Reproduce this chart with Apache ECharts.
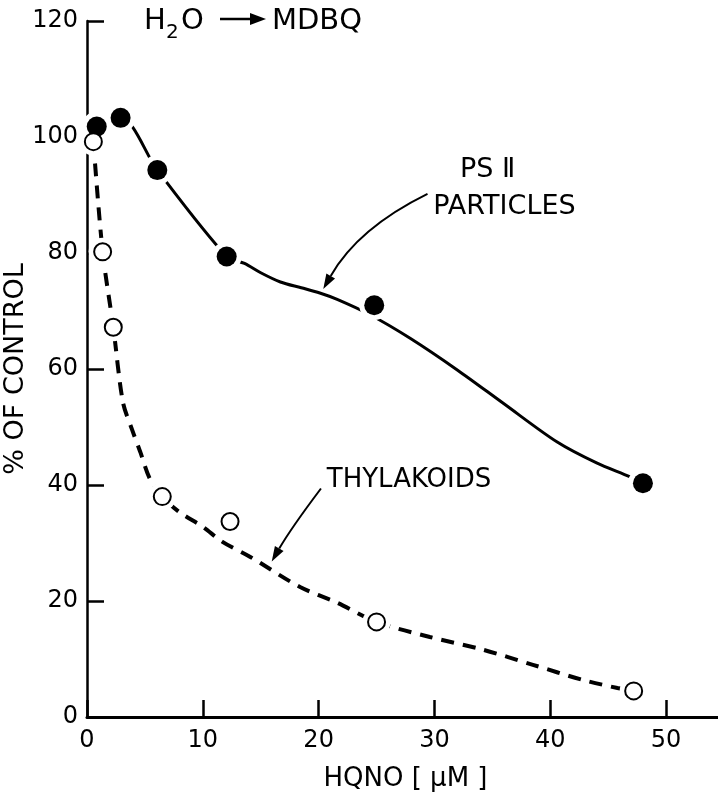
<!DOCTYPE html>
<html>
<head>
<meta charset="utf-8">
<script src="https://cdn.jsdelivr.net/npm/echarts@6/dist/echarts.min.js"></script>
<style>
  html, body { margin: 0; padding: 0; background: #fff; }
  #chart { width: 718px; height: 803px; }
</style>
</head>
<body>
<div id="chart"></div>
<script>
// measured points, HQNO (uM) vs % of control
const psIIPoints = [[0.84, 101.8], [2.9, 103.3], [6.07, 94.3], [12.06, 79.4], [24.8, 71.0], [48.0, 40.3]];
const thylakoidPoints = [[0.55, 99.2], [1.35, 80.2], [2.27, 67.2], [6.5, 38.0], [12.35, 33.7], [25.0, 16.4], [47.2, 4.5]];

// hand-drawn curves
const psIICurve = [[0.84, 101.8], [2.9, 103.3], [6.07, 94.3], [12.06, 79.4], [13.6, 78.2], [15.0, 76.6],
  [16.7, 75.0], [18.5, 74.0], [20.1, 73.1], [21.6, 72.0], [24.4, 69.4], [27.9, 65.3], [32.0, 59.8],
  [36.0, 54.0], [40.6, 47.4], [44.0, 43.8], [46.9, 41.4], [48.0, 40.3]];
const thylakoidCurve = [[0.55, 99.2], [1.35, 80.2], [2.27, 67.2], [3.1, 54.3], [3.9, 49.5], [4.6, 45.7],
  [5.4, 41.2], [6.5, 38.0], [8.0, 35.3], [10.0, 32.8], [11.7, 30.2], [14.1, 27.6], [18.4, 22.4], [21.6, 19.7],
  [25.0, 16.4], [29.6, 13.8], [34.2, 11.6], [38.5, 9.0], [42.8, 6.4], [45.8, 5.0], [47.2, 4.5]];

// axes
const xMin = 0, xMax = 55, xStep = 10;
const yMin = 0, yMax = 120, yStep = 20;

// annotation anchors in data units
const psIILabel = { line1: 'PS Ⅱ', line2: 'PARTICLES', at1: [32.2, 96.6], at2: [29.9, 90.3] };
const psIIArrow = { from: [29.4, 90.2], ctrl: [23.4, 84.3], to: [20.4, 73.8] };
const thyLabel = { text: 'THYLAKOIDS', at: [20.7, 43.1] };
const thyArrow = { from: [20.2, 39.4], ctrl: [17.6, 32.5], to: [15.95, 26.8] };

const FONT = 'DejaVu Sans';
const chart = echarts.init(document.getElementById('chart'));

const option = {
  animation: false,
  backgroundColor: '#fff',
  grid: { left: 87, top: 21, width: 637, bottom: 86, outerBoundsMode: 'none', containLabel: false },
  xAxis: {
    type: 'value', min: xMin, max: xMax, interval: xStep,
    axisLine: { show: true, lineStyle: { color: '#000', width: 3 } },
    axisTick: { show: true, inside: true, length: 17, lineStyle: { color: '#000', width: 2.5 } },
    axisLabel: { margin: 12, fontSize: 24, color: '#000', fontFamily: FONT, showMaxLabel: false },
    splitLine: { show: false },
    name: 'HQNO [ μM ]', nameLocation: 'middle', nameGap: 49, nameMoveOverlap: false,
    nameTextStyle: { fontSize: 26, color: '#000', fontFamily: FONT }
  },
  yAxis: {
    type: 'value', min: yMin, max: yMax, interval: yStep,
    axisLine: { show: true, lineStyle: { color: '#000', width: 2.5 } },
    axisTick: { show: true, inside: true, length: 17, lineStyle: { color: '#000', width: 2.5 } },
    axisLabel: { margin: 9, fontSize: 24, color: '#000', fontFamily: FONT },
    splitLine: { show: false },
    name: '% OF CONTROL', nameLocation: 'middle', nameGap: 58, nameRotate: 90, nameMoveOverlap: false,
    nameTextStyle: { fontSize: 27, color: '#000', fontFamily: FONT }
  },
  series: [
    { type: 'line', data: psIICurve, smooth: 0.3, symbol: 'none', z: 2,
      lineStyle: { color: '#000', width: 3 } },
    { type: 'line', data: thylakoidCurve, smooth: 0.3, symbol: 'none', z: 2,
      lineStyle: { color: '#000', width: 4, type: [13, 9] } },
    // white halos so the curves break around the markers
    { type: 'scatter', data: psIIPoints, symbolSize: 30, z: 3, itemStyle: { color: '#fff', opacity: 1 } },
    { type: 'scatter', data: thylakoidPoints, symbolSize: 28, z: 3, itemStyle: { color: '#fff', opacity: 1 } },
    { type: 'scatter', data: psIIPoints, symbolSize: 20, z: 4, itemStyle: { color: '#000', opacity: 1 } },
    { type: 'scatter', data: thylakoidPoints, symbolSize: 17, z: 4,
      itemStyle: { color: '#fff', borderColor: '#000', borderWidth: 2, opacity: 1 } }
  ]
};

chart.setOption(option);

function px(p) { return chart.convertToPixel({ gridIndex: 0 }, p); }

function arrow(a) {
  const s = px(a.from), c = px(a.ctrl), t = px(a.to);
  let dx = t[0] - c[0], dy = t[1] - c[1];
  const len = Math.sqrt(dx * dx + dy * dy);
  dx /= len; dy /= len;
  const L = 15, W = 5;
  const bx = t[0] - dx * L, by = t[1] - dy * L;
  return [
    { type: 'bezierCurve', z: 10,
      shape: { x1: s[0], y1: s[1], cpx1: c[0], cpy1: c[1], x2: bx, y2: by },
      style: { stroke: '#000', lineWidth: 2, fill: null } },
    { type: 'polygon', z: 10,
      shape: { points: [t, [bx - dy * W, by + dx * W], [bx + dy * W, by - dx * W]] },
      style: { fill: '#000' } }
  ];
}

function label(text, at, size) {
  const p = px(at);
  return { type: 'text', x: p[0], y: p[1], z: 10,
    style: { text: text, fill: '#000', font: size + 'px "' + FONT + '"', textAlign: 'left', textVerticalAlign: 'top' } };
}

function titleText(text, x, y, size) {
  return { type: 'text', x: x, y: y, z: 10,
    style: { text: text, fill: '#000', font: size + 'px "' + FONT + '"', textAlign: 'left', textVerticalAlign: 'middle' } };
}

const graphic = [
  titleText('H', 144, 21, 29),
  titleText('2', 166, 33, 20),
  titleText('O', 181, 21, 29),
  { type: 'line', shape: { x1: 220, y1: 19, x2: 254, y2: 19 }, style: { stroke: '#000', lineWidth: 2.5 } },
  { type: 'polygon', shape: { points: [[266, 19], [250, 13], [250, 25]] }, style: { fill: '#000' } },
  titleText('MDBQ', 272, 21, 29),
  label(psIILabel.line1, psIILabel.at1, 27),
  label(psIILabel.line2, psIILabel.at2, 27),
  label(thyLabel.text, thyLabel.at, 26)
].concat(arrow(psIIArrow), arrow(thyArrow));

chart.setOption({ graphic: graphic });
</script>
</body>
</html>
